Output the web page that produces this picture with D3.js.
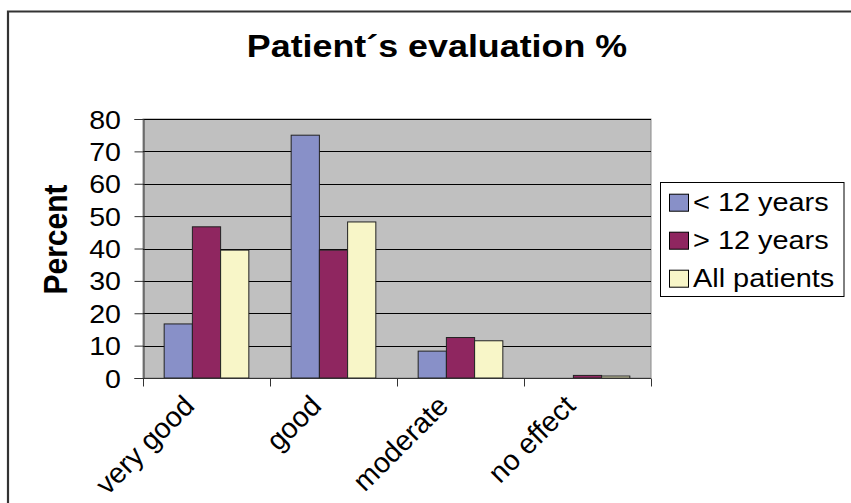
<!DOCTYPE html>
<html>
<head>
<meta charset="utf-8">
<script src="https://cdn.jsdelivr.net/npm/d3@7"></script>
<style>
  html, body { margin: 0; padding: 0; background: #fff; }
  svg { display: block; }
  text { font-family: "Liberation Sans", Arial, Helvetica, sans-serif; fill: #000; }
</style>
</head>
<body>
<svg id="chart" width="851" height="503"></svg>
<script>
// Patient evaluation by age group, in percent
const categories = ["very good", "good", "moderate", "no effect"];
const seriesNames = ["< 12 years", "> 12 years", "All patients"];
const under12 = [16.7, 75, 8.3, 0];
const over12 = [46.7, 39.5, 12.5, 0.8];
const allPatients = [39.5, 48.2, 11.5, 0.6];
const yTicks = [0, 10, 20, 30, 40, 50, 60, 70, 80];
const title = "Patient\u00b4s evaluation %";
const yTitle = "Percent";

const seriesValues = [under12, over12, allPatients];
const colors = ["#8890c8", "#8f2660", "#f8f6c8"];
const SX = 1.12; // horizontal stretch of the lettering

const svg = d3.select("#chart");

// outer chart frame (runs off the right and bottom edges)
svg.append("path")
  .attr("d", "M8,520 L8,11.5 L870,11.5")
  .attr("fill", "none")
  .attr("stroke", "#333")
  .attr("stroke-width", 2.2);

const x = d3.scaleBand().domain(categories).range([143, 651]).paddingInner(0).paddingOuter(0);
const xs = d3.scaleBand().domain(seriesNames).range([0, x.bandwidth()]).paddingInner(0).paddingOuter(0.75);
const y = d3.scaleLinear().domain([0, 80]).range([378, 119]);

// plot background
svg.append("rect")
  .attr("x", x.range()[0]).attr("y", y(80))
  .attr("width", x.range()[1] - x.range()[0]).attr("height", y(0) - y(80))
  .attr("fill", "#c0c0c0")
  .attr("stroke", "#8a8a8a").attr("stroke-width", 1);

// horizontal gridlines
svg.append("g").selectAll("line")
  .data(yTicks.filter(d => d > 0))
  .join("line")
  .attr("x1", x.range()[0]).attr("x2", x.range()[1])
  .attr("y1", d => Math.round(y(d)) + 0.5).attr("y2", d => Math.round(y(d)) + 0.5)
  .attr("stroke", "#000").attr("stroke-width", 1);

// bars
const rows = categories.map((c, i) => ({ c, vals: seriesValues.map((s, k) => ({ k, name: seriesNames[k], v: s[i] })) }));
svg.append("g").selectAll("g")
  .data(rows)
  .join("g")
  .attr("transform", d => `translate(${x(d.c)},0)`)
  .selectAll("rect")
  .data(d => d.vals.filter(e => e.v > 0))
  .join("rect")
  .attr("x", d => xs(d.name))
  .attr("width", xs.bandwidth())
  .attr("y", d => y(d.v))
  .attr("height", d => y(0) - y(d.v))
  .attr("fill", d => colors[d.k])
  .attr("stroke", "#222").attr("stroke-width", 1);

// y axis
const yAxis = svg.append("g")
  .attr("transform", `translate(${x.range()[0] + 0.5},0)`)
  .call(d3.axisLeft(y).tickValues(yTicks).tickSize(9).tickPadding(0).tickFormat(d3.format("d")));
yAxis.select(".domain").attr("stroke", "#333");
yAxis.selectAll(".tick line").attr("stroke", "#333");
yAxis.selectAll(".tick text").remove();
yAxis.selectAll(".tick").append("text")
  .attr("text-anchor", "end")
  .attr("font-size", 25.5)
  .attr("transform", `translate(-22.5,9) scale(${SX},1)`)
  .text(d => d);

// x axis: ticks at the category boundaries
const xAxis = svg.append("g").attr("transform", `translate(0,${y(0) + 0.5})`);
xAxis.append("line")
  .attr("x1", x.range()[0]).attr("x2", x.range()[1])
  .attr("stroke", "#333");
xAxis.selectAll("line.tk")
  .data(categories.map(c => x(c)).concat([x.range()[1]]))
  .join("line").attr("class", "tk")
  .attr("x1", d => Math.round(d) + 0.5).attr("x2", d => Math.round(d) + 0.5)
  .attr("y1", 0).attr("y2", 8)
  .attr("stroke", "#333");
xAxis.selectAll("text")
  .data(categories)
  .join("text")
  .attr("text-anchor", "end")
  .attr("font-size", 28.5)
  .attr("transform", d => `translate(${x(d) + x.bandwidth() / 2 - 10.5},29) rotate(-45)`)
  .text(d => d);

// title
svg.append("text")
  .attr("text-anchor", "middle")
  .attr("font-weight", "bold")
  .attr("font-size", 32)
  .attr("transform", `translate(437,57) scale(${SX},1)`)
  .text(title);

// y axis title
svg.append("text")
  .attr("text-anchor", "middle")
  .attr("font-weight", "bold")
  .attr("font-size", 30)
  .attr("transform", `translate(67,239.5) scale(${SX},1) rotate(-90)`)
  .text(yTitle);

// legend
const legend = svg.append("g");
legend.append("rect")
  .attr("x", 660.5).attr("y", 182.5).attr("width", 183.5).attr("height", 114)
  .attr("fill", "#fff").attr("stroke", "#000").attr("stroke-width", 1);
const items = legend.selectAll("g.item")
  .data(seriesNames)
  .join("g").attr("class", "item")
  .attr("transform", (d, i) => `translate(0,${210.7 + i * 38})`);
items.append("rect")
  .attr("x", 669.5).attr("y", -16.5).attr("width", 19).attr("height", 17)
  .attr("fill", (d, i) => colors[i])
  .attr("stroke", "#000").attr("stroke-width", 1);
items.append("text")
  .attr("font-size", 25.8)
  .attr("transform", `translate(693,0) scale(${SX},1)`)
  .text(d => d);
</script>
</body>
</html>
